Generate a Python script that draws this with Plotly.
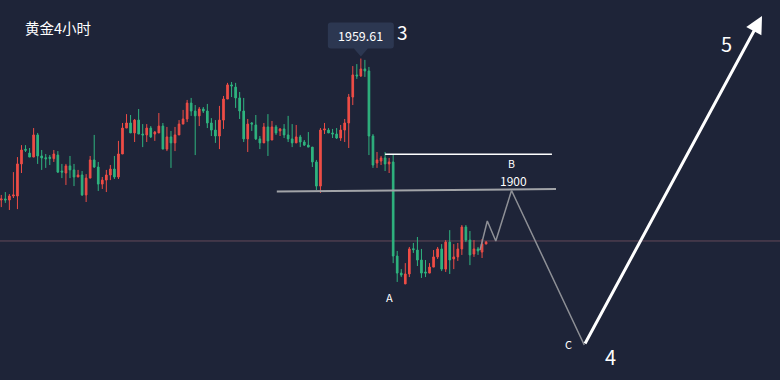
import plotly.graph_objects as go

# ---- candle data (gold, 4h) ----
opens = [1895.7,1896.2,1895.7,1897.5,1897.5,1912.0,1918.6,1916.9,1915.1,1925.1,
         1915.6,1914.8,1915.0,1914.4,1916.0,1908.8,1907.9,1911.1,1909.3,1906.1,
         1907.0,1898.0,1905.6,1913.8,1910.6,1902.9,1904.7,1907.0,1909.7,1906.1,
         1916.5,1928.2,1930.5,1926.0,1931.8,1925.5,1925.1,1928.2,1925.5,1926.0,
         1929.1,1918.7,1924.2,1921.5,1925.1,1930.0,1932.3,1939.5,1935.9,1933.7,
         1936.8,1935.9,1930.5,1927.3,1924.6,1931.8,1941.3,1947.7,1946.7,1941.8,
         1935.9,1923.3,1930.5,1929.6,1923.3,1921.5,1928.7,1922.8,1928.7,1926.9,
         1927.8,1925.1,1923.3,1921.5,1924.2,1921.9,1920.5,1919.6,1912.9,1902.0,
         1927.3,1927.3,1926.0,1925.5,1923.7,1927.3,1930.5,1942.2,1952.2,1951.7,
         1954.9,1954.0,1924.6,1912.4,1913.3,1914.7,1912.0,1912.9,1870.4,1862.7,
         1857.8,1862.3,1873.7,1873.1,1868.6,1863.2,1862.7,1865.4,1870.0,1873.6,
         1864.5,1876.7,1869.1,1870.0,1873.6,1883.5,1877.6,1871.3,1873.6,1872.2,
         1875.8]
highs = [1898.0,1899.3,1898.4,1908.3,1915.1,1920.5,1920.5,1919.2,1928.2,1926.0,
         1918.3,1916.5,1916.0,1918.3,1917.8,1912.0,1912.0,1915.6,1912.0,1909.3,
         1908.8,1907.4,1915.6,1925.1,1912.9,1906.1,1909.3,1911.5,1915.6,1922.4,
         1930.5,1934.5,1934.1,1932.3,1936.8,1930.0,1930.0,1929.1,1926.9,1935.0,
         1930.5,1928.7,1926.9,1928.7,1931.8,1936.4,1940.9,1941.8,1938.6,1937.7,
         1937.7,1939.1,1932.7,1931.8,1938.2,1942.7,1948.6,1949.0,1948.6,1944.5,
         1941.8,1932.3,1930.9,1934.1,1924.6,1930.5,1934.5,1931.4,1929.6,1928.2,
         1930.0,1933.7,1930.0,1929.6,1925.1,1922.8,1926.4,1919.6,1913.8,1928.2,
         1930.5,1928.2,1927.8,1928.2,1929.6,1932.3,1943.6,1956.2,1957.1,1959.61,
         1959.0,1955.8,1925.5,1917.4,1915.6,1917.4,1914.7,1916.5,1872.7,1864.5,
         1867.2,1874.5,1876.3,1879.0,1873.6,1868.6,1867.2,1873.1,1874.5,1875.8,
         1877.6,1882.1,1875.8,1876.3,1884.4,1884.4,1881.7,1877.6,1874.5,1878.1,
         1877.2]
lows = [1892.5,1894.4,1891.2,1896.6,1891.6,1907.9,1917.4,1915.1,1915.1,1912.0,
        1909.3,1910.2,1911.5,1912.9,1907.9,1905.6,1902.5,1905.6,1902.0,1906.1,
        1897.5,1894.8,1905.6,1910.2,1899.8,1900.7,1899.3,1904.7,1905.2,1905.2,
        1916.5,1928.2,1926.0,1921.9,1925.5,1919.6,1921.9,1923.7,1922.4,1926.0,
        1918.7,1917.8,1910.2,1917.8,1925.1,1930.0,1930.9,1933.7,1916.0,1929.1,
        1935.0,1928.2,1924.6,1921.5,1918.7,1927.8,1941.3,1942.2,1937.3,1932.3,
        1921.9,1917.4,1926.9,1922.8,1918.7,1921.5,1915.6,1922.8,1925.1,1924.6,
        1923.7,1921.9,1919.6,1921.5,1919.6,1920.1,1919.6,1910.6,1900.2,1898.9,
        1925.5,1926.0,1923.7,1923.3,1922.4,1921.9,1919.2,1938.6,1950.4,1951.3,
        1951.3,1916.0,1910.2,1910.2,1911.5,1908.8,1907.9,1867.2,1858.7,1860.9,
        1857.8,1860.9,1871.8,1865.9,1860.5,1860.9,1862.7,1865.4,1869.1,1863.6,
        1863.2,1862.3,1864.5,1868.2,1870.9,1876.7,1866.3,1870.0,1870.9,1869.5,
        1875.8]
closes = [1896.2,1895.7,1897.5,1898.0,1912.0,1918.3,1918.2,1915.1,1925.1,1915.6,
          1914.7,1914.3,1914.5,1916.5,1908.3,1908.3,1911.1,1909.3,1906.1,1907.0,
          1898.0,1905.6,1913.8,1910.6,1902.9,1904.7,1907.0,1909.7,1906.1,1916.5,
          1928.2,1930.5,1926.0,1931.8,1925.5,1925.1,1928.2,1924.2,1926.4,1929.1,
          1918.7,1924.2,1921.5,1925.1,1930.0,1932.3,1939.5,1935.9,1933.7,1936.8,
          1935.9,1930.5,1927.3,1924.6,1931.8,1941.3,1947.7,1947.2,1941.8,1935.9,
          1923.3,1930.0,1930.0,1923.3,1921.5,1928.7,1922.4,1928.7,1926.0,1927.8,
          1925.1,1923.3,1921.5,1924.2,1921.9,1920.5,1919.6,1912.9,1902.0,1927.3,
          1927.8,1926.0,1925.5,1923.7,1927.3,1930.5,1942.2,1952.2,1951.7,1954.9,
          1954.0,1924.6,1911.5,1913.8,1914.7,1912.0,1912.9,1870.4,1862.7,1861.8,
          1862.3,1873.6,1873.3,1868.6,1862.7,1862.7,1865.4,1870.0,1873.6,1864.5,
          1876.7,1868.6,1870.0,1873.6,1883.5,1877.6,1870.9,1873.6,1872.7,1875.8,
          1876.7]
candle_idx = list(range(len(opens)))

# ---- annotation data ----
peak_idx, peak_price = 89, 1959.61
last_price = 1877.2
resist_x = [95, 136.3]
resist_y = [1916.4, 1916.4]
neck_x = [68.2, 137.3]
neck_y = [1899.5, 1900.7]
path_x = [118.5, 120.3, 122.4, 126.3, 144.3]
path_y = [1873.1, 1886.2, 1877.2, 1900.0, 1830.2]
wave5_from = (144.3, 1830.2)
wave5_to = (188.3, 1978.8)

BG = "#1e2438"
RED = "#ee4d46"
GREEN = "#2fb47f"
FONT = "Noto Sans CJK SC"

fig = go.Figure()
fig.add_trace(go.Candlestick(
    x=candle_idx, open=opens, high=highs, low=lows, close=closes,
    increasing=dict(line=dict(color=RED, width=1), fillcolor=RED),
    decreasing=dict(line=dict(color=GREEN, width=1), fillcolor=GREEN),
    whiskerwidth=0, hoverinfo="skip", showlegend=False))

fig.add_trace(go.Scatter(x=neck_x, y=neck_y, mode="lines",
                         line=dict(color="#a2a4a8", width=2), hoverinfo="skip", showlegend=False))
fig.add_trace(go.Scatter(x=resist_x, y=resist_y, mode="lines",
                         line=dict(color="#ffffff", width=1.5), hoverinfo="skip", showlegend=False))
fig.add_trace(go.Scatter(x=path_x, y=path_y, mode="lines",
                         line=dict(color="#8e9096", width=1.5), hoverinfo="skip", showlegend=False))

shapes = [
    dict(type="line", xref="paper", x0=0, x1=1, yref="y", y0=last_price, y1=last_price,
         line=dict(color="#64485a", width=1), layer="below"),
    dict(type="path", xref="x", yref="y", xsizemode="pixel", ysizemode="pixel",
         xanchor=peak_idx, yanchor=peak_price,
         path="M 0 2 L -7 10 L -30 10 Q -33 10 -33 13 L -33 33 Q -33 36 -30 36 "
              "L 30 36 Q 33 36 33 33 L 33 13 Q 33 10 30 10 L 7 10 Z",
         fillcolor="#2c3751", line=dict(width=0)),
]

ann = [
    dict(x=wave5_to[0], y=wave5_to[1], ax=wave5_from[0], ay=wave5_from[1],
         xref="x", yref="y", axref="x", ayref="y", text="", showarrow=True,
         arrowhead=2, arrowsize=1.15, arrowwidth=3, arrowcolor="#ffffff"),
    dict(x=peak_idx, y=peak_price, yshift=23, text="1959.61", showarrow=False,
         font=dict(color="#ffffff", size=12.5, family=FONT)),
    dict(x=0.0295, y=1 - 27 / 380, xref="paper", yref="paper", xanchor="left", yanchor="middle",
         text="黄金4小时", showarrow=False, font=dict(color="#ffffff", size=14.5, family=FONT)),
    dict(x=99.4, y=1972.0, text="3", showarrow=False, font=dict(color="#ffffff", size=19, family=FONT)),
    dict(x=126.4, y=1912.4, text="B", showarrow=False, font=dict(color="#ffffff", size=10.5, family=FONT)),
    dict(x=126.9, y=1904.3, text="1900", showarrow=False, font=dict(color="#ffffff", size=12, family=FONT)),
    dict(x=96.0, y=1851.9, text="A", showarrow=False, font=dict(color="#ffffff", size=11, family=FONT)),
    dict(x=140.5, y=1830.6, text="C", showarrow=False, font=dict(color="#ffffff", size=11, family=FONT)),
    dict(x=150.8, y=1825.2, text="4", showarrow=False, font=dict(color="#ffffff", size=20, family=FONT)),
    dict(x=179.4, y=1966.2, text="5", showarrow=False, font=dict(color="#ffffff", size=20, family=FONT)),
]

fig.update_layout(
    width=780, height=380, margin=dict(l=0, r=0, t=0, b=0),
    paper_bgcolor=BG, plot_bgcolor=BG, boxgap=0.42,
    xaxis=dict(range=[-0.32, 192.75], visible=False, rangeslider=dict(visible=False), fixedrange=True),
    yaxis=dict(range=[1814.41, 1986.04], visible=False, fixedrange=True),
    shapes=shapes, annotations=ann, showlegend=False,
)
fig.write_html("out.html", config={"displayModeBar": False},
               post_script="document.body.style.margin='0';document.body.style.background='%s';" % BG)
